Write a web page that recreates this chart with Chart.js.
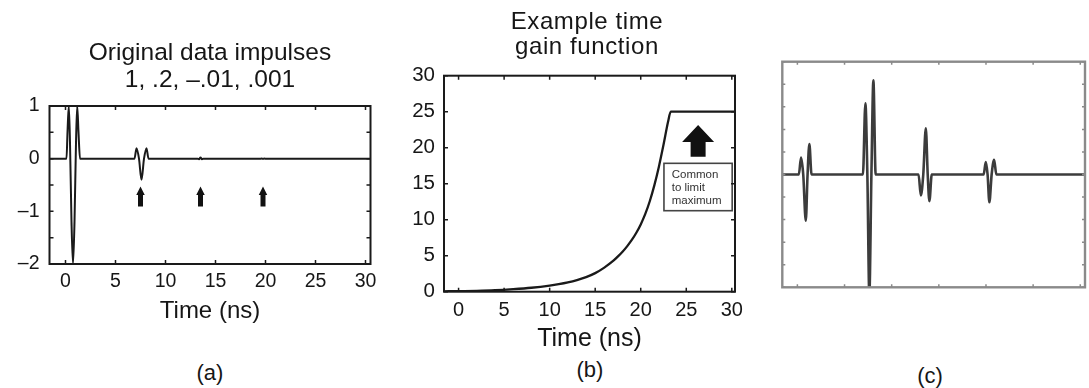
<!DOCTYPE html>
<html>
<head>
<meta charset="utf-8">
<script src="https://cdn.jsdelivr.net/npm/chart.js@4.4.1/dist/chart.umd.min.js"></script>
<style>
  html, body { margin: 0; padding: 0; background: #fff; }
  #wrap { position: relative; width: 1089px; height: 388px; background: #fff; overflow: hidden; }
  canvas { position: absolute; }
  .txt { position: absolute; text-align: center; color: #161616; font-family: "Liberation Sans", Arial, sans-serif; white-space: nowrap; }
</style>
</head>
<body>
<div id="wrap">
  <canvas id="cA" width="380" height="234" style="left:0px;top:96px"></canvas>
  <canvas id="cB" width="370" height="290" style="left:380px;top:66px"></canvas>
  <canvas id="cC" width="319" height="250" style="left:770px;top:50px"></canvas>

  <div class="txt" style="left:10px;width:400px;top:38px;font-size:24.5px;line-height:27px">Original data impulses<br>1, .2, &#8211;.01, .001</div>
  <div class="txt" style="left:387px;width:400px;top:8px;font-size:24px;line-height:25px;letter-spacing:0.6px">Example time<br>gain function</div>

  <div class="txt" style="left:160px;width:100px;top:362px;font-size:22px;line-height:22px">(a)</div>
  <div class="txt" style="left:540px;width:100px;top:359px;font-size:22px;line-height:22px">(b)</div>
  <div class="txt" style="left:880px;width:100px;top:365px;font-size:22px;line-height:22px">(c)</div>
</div>

<script>
// ---------------- DATA ----------------
// Panel (a): original data impulses (1, .2, -.01, .001)
const timeA = [-1.6, 0.1, 0.2, 0.33, 0.45, 0.6, 0.75, 0.9, 1.05, 1.17, 1.3, 1.45,
               6.9, 7.1, 7.35, 7.6, 7.85, 8.1, 8.3,
               13.2, 13.35, 13.5, 13.65, 13.8,
               19.45, 19.6, 19.75, 19.9, 20.05, 30.5];
const ampA  = [0, 0, 0.5, 1, 0.3, -1.2, -2, -1.2, 0.3, 1, 0.5, 0,
               0, 0.2, 0, -0.4, 0, 0.2, 0,
               0, -0.01, 0.02, -0.01, 0,
               0, 0.001, -0.002, 0.001, 0, 0];

// Panel (b): example time gain function (capped at 25)
const timeB = [-1.6, 0, 2, 4, 6, 8, 10, 11, 12, 13, 14, 15, 16, 17, 17.5, 18, 18.5, 19, 19.5, 20, 20.5, 21, 21.5, 22, 22.5, 23, 23.3, 30.5];
const gainB = [0.05, 0.08, 0.12, 0.2, 0.35, 0.55, 0.85, 1.05, 1.3, 1.62, 2.02, 2.58, 3.35, 4.3, 4.9, 5.55, 6.3, 7.15, 8.15, 9.35, 10.8, 12.6, 14.8, 17.4, 20.4, 23.6, 25, 25];

// Panel (c): gained data
const timeC = [-1.6, 0.15, 0.39, 0.62, 0.89, 1.08, 1.27, 1.5,
               6.95, 7.21, 7.42, 7.63, 7.85, 8.06, 8.3,
               12.85, 13.09, 13.35, 13.62, 13.82, 14.0, 14.25,
               19.75, 19.98, 20.17, 20.36, 20.6, 20.86, 21.1, 30.5];
const ampC  = [0, 0, 0.75, 0, -2.05, 0, 1.35, 0,
               0, 3.16, 0, -5.3, 0, 4.17, 0,
               0, -0.93, 0, 2.05, 0, -1.18, 0,
               0, 0.55, 0, -1.23, 0, 0.65, 0, 0];

// Tick values
const timeTicks = [0, 5, 10, 15, 20, 25, 30];
const ticksAy = [-2, -1.5, -1, -0.5, 0, 0.5, 1];
const ticksBy = [0, 5, 10, 15, 20, 25, 30];
const ticksCy = [-5, -4, -3, -2, -1, 0, 1, 2, 3, 4, 5];

// Annotations (data coordinates)
const arrowsAx = [7.5, 13.5, 19.75];
const arrowsA = { tip: -0.53, headBase: -0.69, base: -0.91 };
const arrowB = { x: 26.3, tip: 23.15, headBase: 20.8, base: 18.75 };
const noteB = { x0: 22.55, x1: 30.04, y0: 11.25, y1: 17.83, textX: 23.4,
                lines: ["Common", "to limit", "maximum"], lineY: [16.2, 14.4, 12.6] };

// ---------------- HELPERS ----------------
Chart.defaults.font.family = '"Liberation Sans", Arial, sans-serif';
Chart.defaults.color = '#161616';

const pts = (xs, ys) => xs.map((x, i) => ({ x: x, y: ys[i] }));
const fmt = v => Number.isInteger(v) ? String(v).replace('-', '\u2013') : '';

const framePlugin = {
  id: 'frame',
  afterDraw(chart, args, o) {
    const { ctx, chartArea: a, scales } = chart;
    ctx.save();
    ctx.lineWidth = o.tickWidth;
    ctx.strokeStyle = o.color;
    ctx.beginPath();
    scales.x.ticks.forEach(t => {
      const p = scales.x.getPixelForValue(t.value);
      ctx.moveTo(p, a.bottom); ctx.lineTo(p, a.bottom - o.tickLen);
      ctx.moveTo(p, a.top); ctx.lineTo(p, a.top + o.tickLen);
    });
    scales.y.ticks.forEach(t => {
      const p = scales.y.getPixelForValue(t.value);
      ctx.moveTo(a.left, p); ctx.lineTo(a.left + o.tickLen, p);
      ctx.moveTo(a.right, p); ctx.lineTo(a.right - o.tickLen, p);
    });
    ctx.stroke();
    ctx.lineWidth = o.width;
    ctx.strokeRect(a.left, a.top, a.right - a.left, a.bottom - a.top);
    ctx.restore();
  }
};

function drawArrow(ctx, sx, sy, x, tip, headBase, base, headW, shaftW) {
  const px = sx.getPixelForValue(x);
  const pt = sy.getPixelForValue(tip), ph = sy.getPixelForValue(headBase), pb = sy.getPixelForValue(base);
  ctx.beginPath();
  ctx.moveTo(px, pt);
  ctx.lineTo(px + headW / 2, ph);
  ctx.lineTo(px + shaftW / 2, ph);
  ctx.lineTo(px + shaftW / 2, pb);
  ctx.lineTo(px - shaftW / 2, pb);
  ctx.lineTo(px - shaftW / 2, ph);
  ctx.lineTo(px - headW / 2, ph);
  ctx.closePath();
  ctx.fill();
}

const annotPlugin = {
  id: 'annot',
  afterDatasetsDraw(chart, args, o) {
    const { ctx, scales: { x: sx, y: sy } } = chart;
    ctx.save();
    ctx.fillStyle = '#111';
    (o.arrows || []).forEach(a => drawArrow(ctx, sx, sy, a.x, a.tip, a.headBase, a.base, a.headW, a.shaftW));
    if (o.note) {
      const n = o.note;
      const x0 = sx.getPixelForValue(n.x0), x1 = sx.getPixelForValue(n.x1);
      const y0 = sy.getPixelForValue(n.y1), y1 = sy.getPixelForValue(n.y0);
      ctx.fillStyle = '#fff';
      ctx.fillRect(x0, y0, x1 - x0, y1 - y0);
      ctx.strokeStyle = '#444'; ctx.lineWidth = 1.6;
      ctx.strokeRect(x0, y0, x1 - x0, y1 - y0);
      ctx.fillStyle = '#333';
      ctx.font = '11.5px "Liberation Sans", Arial, sans-serif';
      ctx.textBaseline = 'middle'; ctx.textAlign = 'left';
      n.lines.forEach((t, i) => ctx.fillText(t, sx.getPixelForValue(n.textX), sy.getPixelForValue(n.lineY[i])));
    }
    ctx.restore();
  }
};

function xScale(opts) {
  return Object.assign({
    type: 'linear', min: -1.6, max: 30.5,
    grid: { display: false, drawTicks: false },
    border: { display: false },
    afterBuildTicks: s => { s.ticks = timeTicks.map(v => ({ value: v })); },
  }, opts);
}
function yScale(opts, tickVals) {
  return Object.assign({
    type: 'linear',
    grid: { display: false, drawTicks: false },
    border: { display: false },
    afterBuildTicks: s => { s.ticks = tickVals.map(v => ({ value: v })); },
  }, opts);
}

// ---------------- CHART (a) ----------------
new Chart(document.getElementById('cA'), {
  type: 'line',
  data: { datasets: [{ data: pts(timeA, ampA), borderColor: '#1a1a1a', borderWidth: 2,
                       pointRadius: 0, cubicInterpolationMode: 'monotone', fill: false }] },
  options: {
    responsive: false, animation: false, devicePixelRatio: 1,
    layout: { padding: { top: 10, right: 9.5, left: 0, bottom: 0 } },
    plugins: { legend: { display: false }, tooltip: { enabled: false },
               frame: { color: '#1a1a1a', width: 2, tickLen: 4, tickWidth: 1.5 },
               annot: { arrows: arrowsAx.map(x => ({ x: x, tip: arrowsA.tip, headBase: arrowsA.headBase, base: arrowsA.base, headW: 8.5, shaftW: 5 })) } },
    scales: {
      x: xScale({
        ticks: { autoSkip: false, maxRotation: 0, padding: 6.3, font: { size: 19.5 }, callback: fmt },
        title: { display: true, text: 'Time (ns)', font: { size: 24 }, padding: { top: 0, bottom: 4 } },
        afterFit: s => { s.height = 66; s.paddingLeft = 0; s.paddingRight = 0; }
      }),
      y: yScale({
        min: -2, max: 1,
        ticks: { autoSkip: false, padding: 10, font: { size: 19.5 }, callback: fmt },
        afterFit: s => { s.width = 49.5; s.paddingTop = 0; s.paddingBottom = 0; }
      }, ticksAy)
    }
  },
  plugins: [framePlugin, annotPlugin]
});

// ---------------- CHART (b) ----------------
new Chart(document.getElementById('cB'), {
  type: 'line',
  data: { datasets: [{ data: pts(timeB, gainB), borderColor: '#1a1a1a', borderWidth: 2.3,
                       pointRadius: 0, cubicInterpolationMode: 'monotone', fill: false }] },
  options: {
    responsive: false, animation: false, devicePixelRatio: 1,
    layout: { padding: { top: 9.7, right: 15, left: 0, bottom: 0 } },
    plugins: { legend: { display: false }, tooltip: { enabled: false },
               frame: { color: '#1a1a1a', width: 2, tickLen: 4, tickWidth: 1.5 },
               annot: { arrows: [{ x: arrowB.x, tip: arrowB.tip, headBase: arrowB.headBase, base: arrowB.base, headW: 32, shaftW: 15 }],
                        note: noteB } },
    scales: {
      x: xScale({
        max: 30.35,
        ticks: { autoSkip: false, maxRotation: 0, padding: 6.9, font: { size: 20 }, callback: fmt },
        title: { display: true, text: 'Time (ns)', font: { size: 25 }, padding: { top: 0, bottom: 1.8 } },
        afterFit: s => { s.height = 64.3; s.paddingLeft = 0; s.paddingRight = 0; }
      }),
      y: yScale({
        min: 0, max: 30,
        ticks: { autoSkip: false, padding: 9, font: { size: 20.5 }, callback: fmt },
        afterFit: s => { s.width = 64; s.paddingTop = 0; s.paddingBottom = 0; }
      }, ticksBy)
    }
  },
  plugins: [framePlugin, annotPlugin]
});

// ---------------- CHART (c) ----------------
new Chart(document.getElementById('cC'), {
  type: 'line',
  data: { datasets: [{ data: pts(timeC, ampC), borderColor: '#3c3c3c', borderWidth: 2.6,
                       pointRadius: 0, cubicInterpolationMode: 'monotone', fill: false }] },
  options: {
    responsive: false, animation: false, devicePixelRatio: 1,
    layout: { padding: { top: 11.7, right: 4, left: 12.3, bottom: 12.7 } },
    plugins: { legend: { display: false }, tooltip: { enabled: false },
               frame: { color: '#8a8a8a', width: 2.4, tickLen: 3, tickWidth: 1.5 } },
    scales: {
      x: xScale({
        ticks: { display: false },
        afterFit: s => { s.height = 0; s.paddingLeft = 0; s.paddingRight = 0; }
      }),
      y: yScale({
        min: -5, max: 5,
        ticks: { display: false },
        afterFit: s => { s.width = 0; s.paddingTop = 0; s.paddingBottom = 0; }
      }, ticksCy)
    }
  },
  plugins: [framePlugin]
});
</script>
</body>
</html>
